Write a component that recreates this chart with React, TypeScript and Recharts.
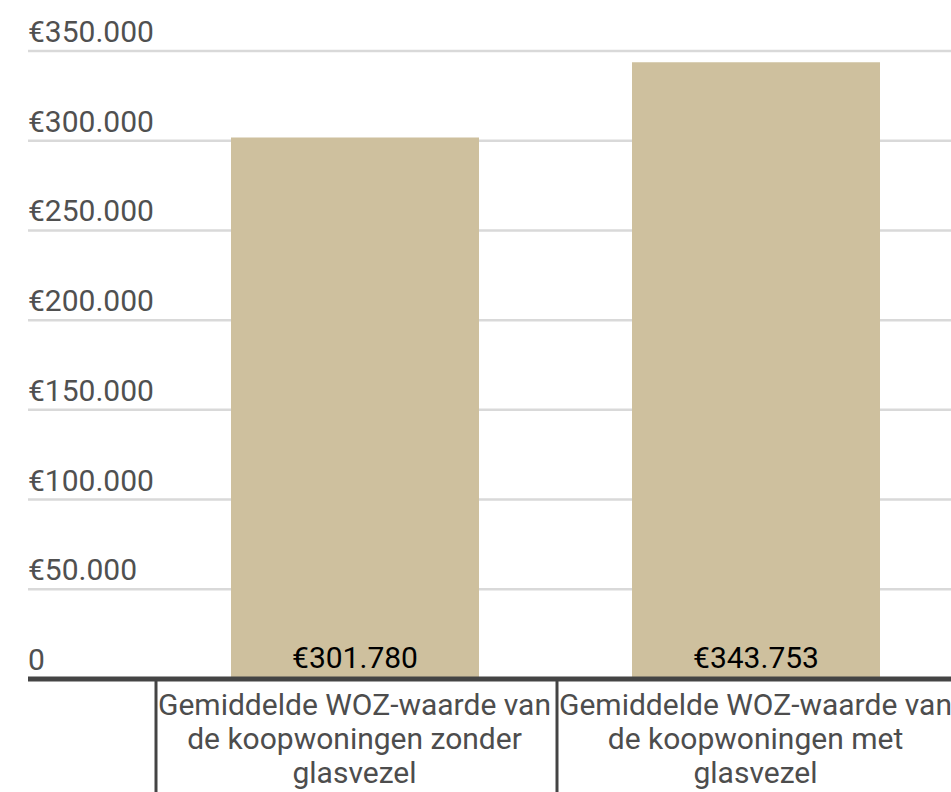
import { BarChart, Bar, XAxis, YAxis, CartesianGrid, ReferenceLine, LabelList } from "recharts";

const categories = [
    "Gemiddelde WOZ-waarde van de koopwoningen zonder glasvezel",
    "Gemiddelde WOZ-waarde van de koopwoningen met glasvezel",
];
const wozValues = [301780, 343753];
const yTicks = [0, 50000, 100000, 150000, 200000, 250000, 300000, 350000];

const data = categories.map((name, i) => ({ name, value: wozValues[i] }));

const FONT = "Roboto, 'Noto Sans', sans-serif";

function euro(v: number) {
    if (v === 0) return "0";
    return "€" + String(v).replace(/\B(?=(\d{3})+(?!\d))/g, ".");
}

// simple word wrap using canvas measurement
let ctx: CanvasRenderingContext2D | null = null;
function wrap(text: string, maxWidth: number, font: string) {
    if (!ctx) ctx = document.createElement("canvas").getContext("2d");
    ctx!.font = font;
    const lines: string[] = [];
    let cur = "";
    for (const w of text.split(" ")) {
        const next = cur ? cur + " " + w : w;
        if (cur && ctx!.measureText(next).width > maxWidth) {
            lines.push(cur);
            cur = w;
        } else {
            cur = next;
        }
    }
    if (cur) lines.push(cur);
    return lines;
}

function YTick({ y, payload }: any) {
    return (
        <text x={28} y={y - 9} textAnchor="start" fontFamily={FONT} fontSize={30} fill="#505050">
            {euro(payload.value)}
        </text>
    );
}

function XTick({ x, y, payload }: any) {
    const left = x - 200 + 1.5;
    const lines = wrap(payload.value, 396, "30px Roboto");
    return (
        <g>
            <line x1={left} y1={y} x2={left} y2={y + 140} stroke="#444" strokeWidth={3} />
            <text textAnchor="middle" fontFamily={FONT} fontSize={30} fill="#4d4d4d">
                {lines.map((l, i) => (
                    <tspan key={i} x={x} y={y + 36 + i * 34}>
                        {l}
                    </tspan>
                ))}
            </text>
        </g>
    );
}

function BarValue({ x, y, width, height, value }: any) {
    return (
        <text x={x + width / 2} y={y + height - 11} textAnchor="middle" fontFamily={FONT} fontSize={30} fill="#000">
            {euro(value)}
        </text>
    );
}

export default function App() {
    return (
        <div style={{ position: "absolute", left: 0, top: 0, width: 951, height: 792, overflow: "hidden", background: "#fff" }}>
            <BarChart width={956} height={792} data={data} margin={{ top: 51, right: 0, bottom: 0, left: 0 }}>
                <CartesianGrid horizontal vertical={false} stroke="#d9d9d9" strokeWidth={2.5} />
                <XAxis
                    dataKey="name"
                    height={113}
                    padding={{ left: 126, right: 0 }}
                    axisLine={false}
                    tickLine={false}
                    tickSize={0}
                    tickMargin={0}
                    interval={0}
                    tick={<XTick />}
                />
                <YAxis
                    width={28}
                    domain={[0, 350000]}
                    ticks={yTicks}
                    axisLine={false}
                    tickLine={false}
                    tick={<YTick />}
                />
                <Bar dataKey="value" fill="#cec09e" barSize={248} isAnimationActive={false}>
                    <LabelList dataKey="value" content={<BarValue />} />
                </Bar>
                <ReferenceLine y={0} stroke="#444" strokeWidth={5} />
            </BarChart>
        </div>
    );
}
